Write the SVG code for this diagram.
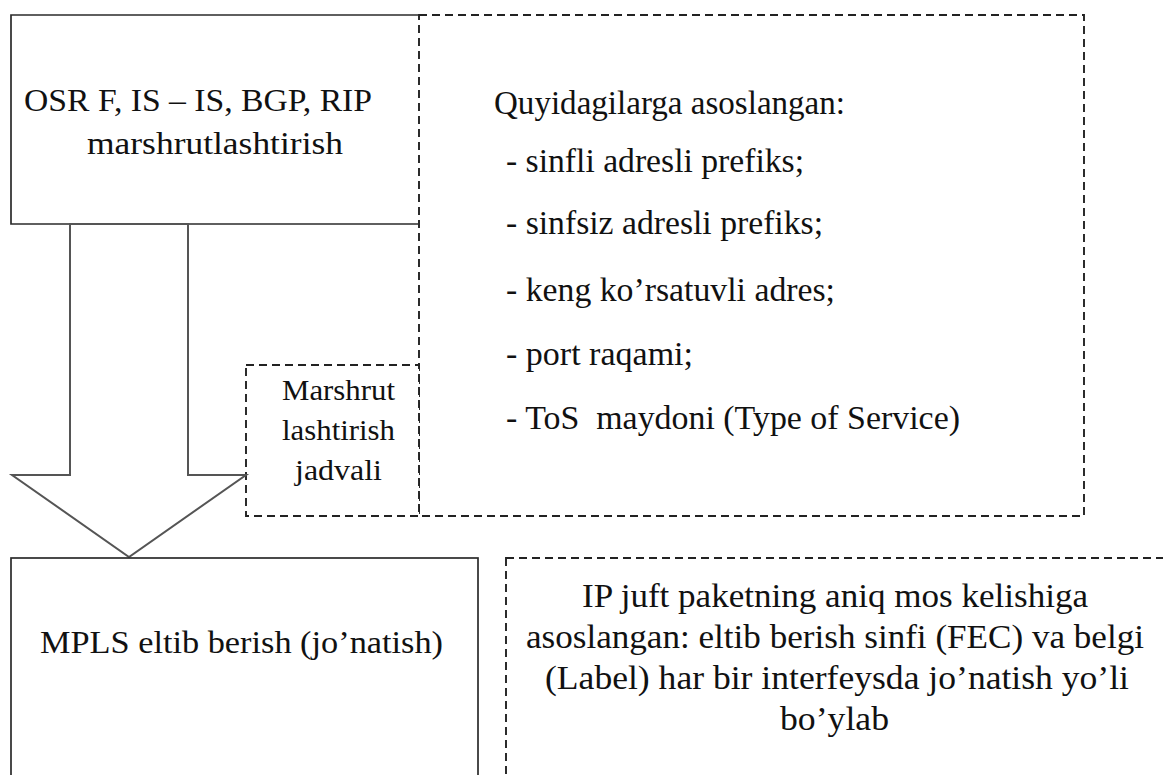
<svg xmlns="http://www.w3.org/2000/svg" width="1163" height="775" viewBox="0 0 1163 775">
  <style>
    .solid { fill: #ffffff; stroke: #2b2b2b; stroke-width: 1.7; }
    .dash { fill: #ffffff; stroke: #222222; stroke-width: 1.9; stroke-dasharray: 8 5; }
    .arrow { fill: #ffffff; stroke: #555555; stroke-width: 2; stroke-linejoin: miter; }
    text { font-family: "Liberation Serif", "Times New Roman", serif; fill: #111111; }
    .big { font-size: 32px; }
    .mid { font-size: 29px; }
    .list { font-size: 33px; }
    .low { font-size: 33px; }
  </style>

  <!-- routing protocols box -->
  <g id="routing">
    <path class="solid" d="M418,15 H11 V224 H418"/>
    <text class="big" x="24" y="111" textLength="348" lengthAdjust="spacingAndGlyphs">OSR F, IS – IS, BGP, RIP</text>
    <text class="big" x="87" y="154" textLength="256" lengthAdjust="spacingAndGlyphs">marshrutlashtirish</text>
  </g>

  <!-- criteria box -->
  <g id="criteria">
    <rect class="dash" x="419" y="15" width="665" height="501"/>
    <text class="list" x="494" y="114" textLength="351" lengthAdjust="spacingAndGlyphs">Quyidagilarga asoslangan:</text>
    <text class="list" x="506" y="172" textLength="298" lengthAdjust="spacingAndGlyphs">- sinfli adresli prefiks;</text>
    <text class="list" x="506" y="234" textLength="317" lengthAdjust="spacingAndGlyphs">- sinfsiz adresli prefiks;</text>
    <text class="list" x="506" y="301" textLength="329" lengthAdjust="spacingAndGlyphs">- keng ko’rsatuvli adres;</text>
    <text class="list" x="506" y="365" textLength="187" lengthAdjust="spacingAndGlyphs">- port raqami;</text>
    <text class="list" x="506" y="429" textLength="454" lengthAdjust="spacingAndGlyphs" xml:space="preserve">- ToS  maydoni (Type of Service)</text>
  </g>

  <!-- routing table box -->
  <g id="table">
    <rect class="dash" x="246" y="365" width="173" height="151"/>
    <text class="mid" x="282" y="400" textLength="113" lengthAdjust="spacingAndGlyphs">Marshrut</text>
    <text class="mid" x="282" y="440" textLength="113" lengthAdjust="spacingAndGlyphs">lashtirish</text>
    <text class="mid" x="295" y="480" textLength="87" lengthAdjust="spacingAndGlyphs">jadvali</text>
  </g>

  <!-- block arrow between the boxes -->
  <g id="connectors">
    <polygon class="arrow" points="70,224 70,475 12,475 129,557 246,475 188,475 188,224"/>
  </g>

  <!-- MPLS forwarding box -->
  <g id="mpls">
    <rect class="solid" x="11" y="558" width="467" height="240"/>
    <text class="big" x="40" y="653" textLength="403" lengthAdjust="spacingAndGlyphs">MPLS eltib berish (jo’natish)</text>
  </g>

  <!-- forwarding description box -->
  <g id="forwarding">
    <rect class="dash" x="506" y="558" width="700" height="240"/>
    <text class="low" x="582" y="607" textLength="506" lengthAdjust="spacingAndGlyphs">IP juft paketning aniq mos kelishiga</text>
    <text class="low" x="526" y="648" textLength="618" lengthAdjust="spacingAndGlyphs">asoslangan: eltib berish sinfi (FEC) va belgi</text>
    <text class="low" x="545" y="689" textLength="584" lengthAdjust="spacingAndGlyphs">(Label) har bir interfeysda jo’natish yo’li</text>
    <text class="low" x="780" y="730" textLength="109" lengthAdjust="spacingAndGlyphs">bo’ylab</text>
  </g>
</svg>
